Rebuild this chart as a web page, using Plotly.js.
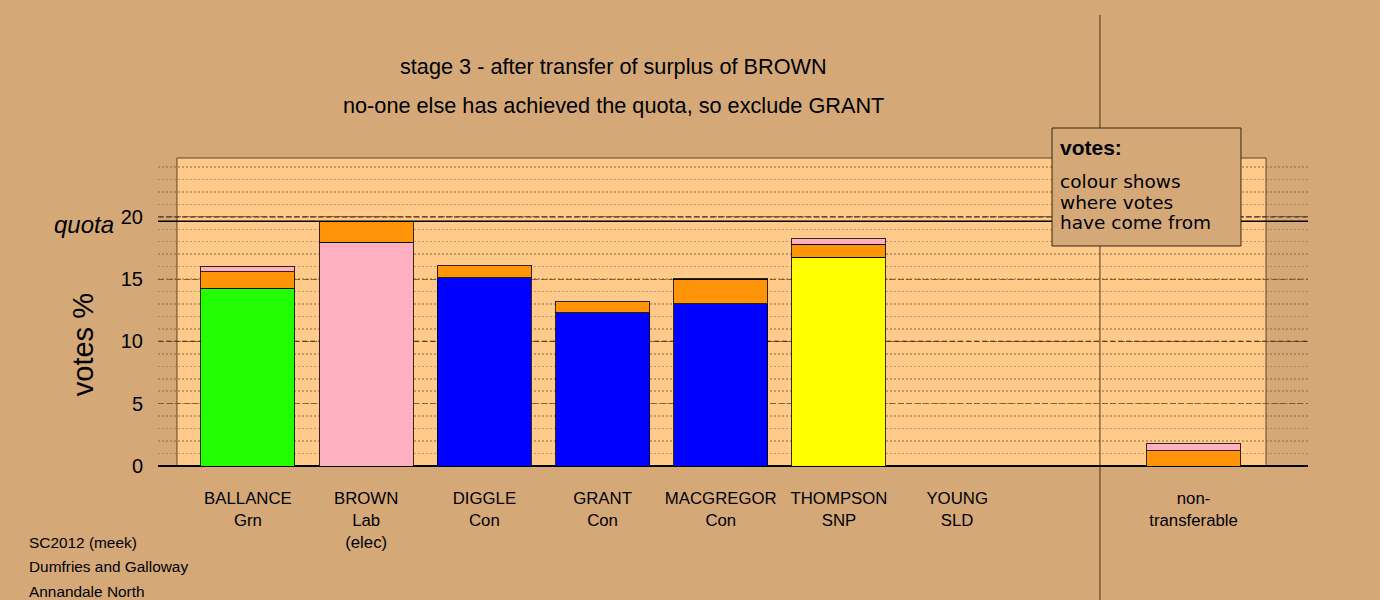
<!DOCTYPE html>
<html>
<head>
<meta charset="utf-8">
<script src="https://cdn.plot.ly/plotly-3.0.1.min.js"></script>
<style>html,body{margin:0;padding:0;background:#d4a977;}</style>
</head>
<body>
<div id="chart" style="width:1380px;height:600px;"></div>
<script>
// ---- data ----
const tickLabels = ['BALLANCE<br>Grn', 'BROWN<br>Lab<br>(elec)', 'DIGGLE<br>Con', 'GRANT<br>Con',
                    'MACGREGOR<br>Con', 'THOMPSON<br>SNP', 'YOUNG<br>SLD', 'non-<br>transferable'];
const xPositions = [0, 1, 2, 3, 4, 5, 6, 8];
const firstPrefVotes = [14.25, 17.94, 15.10, 12.29, 13.04, 16.76, 0, 0];
const firstPrefColors = ['#22ff00', '#ffb0c0', '#0000ff', '#0000ff', '#0000ff', '#ffff00', '#ff9408', '#ff9408'];
const fromYoung = [1.36, 1.71, 0.96, 0.88, 1.93, 1.02, 0, 1.21];
const fromBrown = [0.40, 0, 0.04, 0.04, 0.04, 0.46, 0, 0.59];
const quota = 19.65;
const yTicks = [0, 5, 10, 15, 20];
const yDarkTicks = [10, 20];

const FONT = 'Liberation Sans, Arial, Helvetica, sans-serif';
const BG = '#d4a977';
const PANEL = '#ffca8a';
const barLine = {color: 'rgba(0,0,0,0.8)', width: 1};
const Y_RANGE = [0, 24.72];

const traces = [
  {type: 'bar', x: xPositions, y: firstPrefVotes, marker: {color: firstPrefColors, line: barLine}, hoverinfo: 'none'},
  {type: 'bar', x: xPositions, y: fromYoung, marker: {color: '#ff9408', line: barLine}, hoverinfo: 'none'},
  {type: 'bar', x: xPositions, y: fromBrown, marker: {color: '#ffb0c0', line: barLine}, hoverinfo: 'none'}
];

function legendLine(text, y, font) {
  return {xref: 'paper', yref: 'paper', x: 0.7826, y: y, text: text,
          showarrow: false, xanchor: 'left', yanchor: 'middle', font: font};
}
const legendFont = {size: 18.5, family: 'DejaVu Sans, Liberation Sans, sans-serif', color: '#000'};
function footLine(text, y) {
  return {xref: 'paper', yref: 'paper', x: -0.1139, y: y, text: text,
          showarrow: false, xanchor: 'left', yanchor: 'middle', font: {size: 15.4, family: FONT, color: '#000'}};
}

const darkGridShapes = yDarkTicks.map(v => ({
  type: 'line', xref: 'paper', yref: 'y', x0: 0, x1: 1, y0: v, y1: v,
  line: {color: 'rgba(20,10,0,0.85)', width: 1.2, dash: '5px,3px'}, layer: 'between'
}));

const layout = {
  width: 1380, height: 600, autosize: false,
  paper_bgcolor: BG, plot_bgcolor: BG,
  margin: {l: 158, r: 72, t: 158, b: 134, pad: 0},
  barmode: 'stack', bargap: 0.205, showlegend: false,
  font: {family: FONT, color: '#000'},
  xaxis: {
    range: [-0.761, 8.968], tickmode: 'array', tickvals: xPositions, ticktext: tickLabels,
    ticks: 'outside', ticklen: 17, tickcolor: 'rgba(0,0,0,0)',
    tickfont: {size: 16.8, family: FONT, color: '#000'},
    showgrid: false, zeroline: false, showline: false, fixedrange: true
  },
  yaxis: {
    range: Y_RANGE, tickmode: 'array', tickvals: yTicks,
    ticks: 'outside', ticklen: 10, tickcolor: 'rgba(0,0,0,0)',
    tickfont: {size: 20, family: FONT, color: '#000'},
    showgrid: true, gridcolor: 'rgba(110,70,30,0.75)', griddash: '6px,2.5px', gridwidth: 1,
    minor: {dtick: 1, tick0: 0, showgrid: true, gridcolor: 'rgba(150,110,70,0.55)', griddash: '2px,2px', gridwidth: 1.5},
    zeroline: true, zerolinecolor: '#000', zerolinewidth: 1.5, showline: false, fixedrange: true
  },
  shapes: [
    {type: 'rect', xref: 'paper', yref: 'paper', x0: 0.0165, x1: 0.9635, y0: 0, y1: 1,
     fillcolor: PANEL, line: {color: 'rgba(60,40,20,0.8)', width: 1}, layer: 'below'},
    ...darkGridShapes,
    {type: 'line', xref: 'paper', yref: 'y', x0: 0, x1: 1, y0: quota, y1: quota,
     line: {color: '#000', width: 1.5}, layer: 'above'},
    {type: 'line', xref: 'paper', yref: 'paper', x0: 0.8191, x1: 0.8191, y0: -0.44, y1: 1.4643,
     line: {color: 'rgba(50,30,10,0.85)', width: 1}, layer: 'above'},
    {type: 'rect', xref: 'paper', yref: 'paper', x0: 0.7774, x1: 0.9417, y0: 0.7143, y1: 1.0974,
     fillcolor: BG, line: {color: 'rgba(40,25,10,0.9)', width: 1}, layer: 'above'}
  ],
  annotations: [
    {xref: 'paper', yref: 'paper', x: 0.3965, y: 1.2955, text: 'stage 3 - after transfer of surplus of BROWN',
     showarrow: false, xanchor: 'center', yanchor: 'middle', font: {size: 21.7, family: FONT, color: '#000'}},
    {xref: 'paper', yref: 'paper', x: 0.3965, y: 1.172, text: 'no-one else has achieved the quota, so exclude GRANT',
     showarrow: false, xanchor: 'center', yanchor: 'middle', font: {size: 21.7, family: FONT, color: '#000'}},
    {xref: 'paper', yref: 'y', x: -0.0365, y: quota, yshift: -3, text: '<i>quota</i>',
     showarrow: false, xanchor: 'right', yanchor: 'middle', font: {size: 24, family: FONT, color: '#000'}},
    {xref: 'paper', yref: 'paper', x: -0.065, y: 0.393, text: 'votes %', textangle: -90,
     showarrow: false, xanchor: 'center', yanchor: 'middle', font: {size: 29, family: FONT, color: '#000'}},
    legendLine('<b>votes:</b>', 1.0325, {size: 21, family: FONT, color: '#000'}),
    legendLine('colour shows', 0.9253, legendFont),
    legendLine('where votes', 0.8571, legendFont),
    legendLine('have come from', 0.789, legendFont),
    footLine('SC2012 (meek)', -0.2468),
    footLine('Dumfries and Galloway', -0.3279),
    footLine('Annandale North', -0.409)
  ]
};

Plotly.newPlot('chart', traces, layout, {displayModeBar: false, staticPlot: true});
</script>
</body>
</html>
